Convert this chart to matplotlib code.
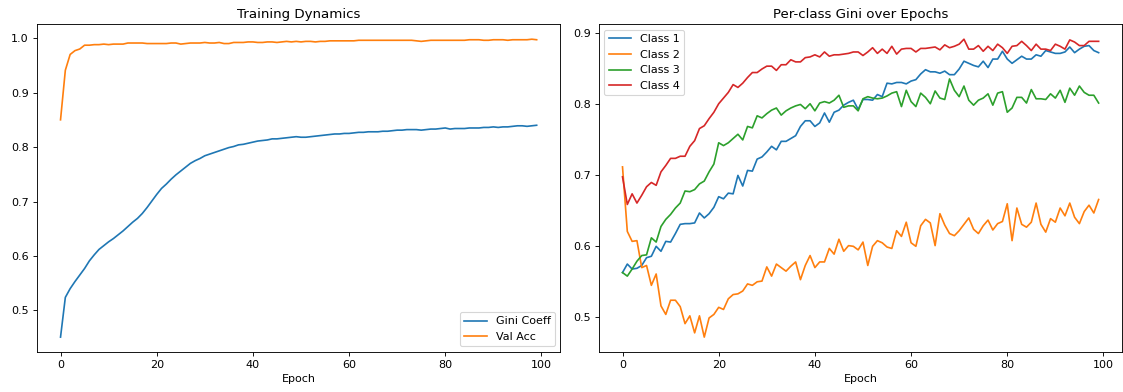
import matplotlib
matplotlib.use("Agg")
import matplotlib.pyplot as plt

# left panel
gini_coeff = [
    0.451, 0.524, 0.540, 0.553, 0.565, 0.577, 0.591, 0.602, 0.612, 0.619,
    0.626, 0.632, 0.639, 0.646, 0.654, 0.662, 0.669, 0.678, 0.689, 0.701,
    0.713, 0.724, 0.732, 0.741, 0.749, 0.756, 0.763, 0.770, 0.775, 0.779,
    0.784, 0.787, 0.790, 0.793, 0.796, 0.799, 0.801, 0.804, 0.805, 0.807,
    0.809, 0.811, 0.812, 0.813, 0.815, 0.815, 0.816, 0.817, 0.818, 0.819,
    0.818, 0.818, 0.819, 0.820, 0.821, 0.822, 0.823, 0.824, 0.824, 0.825,
    0.825, 0.826, 0.827, 0.827, 0.828, 0.828, 0.828, 0.829, 0.829, 0.830,
    0.831, 0.831, 0.832, 0.832, 0.832, 0.831, 0.832, 0.833, 0.833, 0.834,
    0.835, 0.833, 0.834, 0.834, 0.834, 0.835, 0.835, 0.835, 0.836, 0.836,
    0.837, 0.836, 0.837, 0.837, 0.838, 0.839, 0.839, 0.838, 0.839, 0.840,
]
val_acc = [
    0.850, 0.941, 0.970, 0.977, 0.980, 0.987, 0.987, 0.988, 0.988, 0.989,
    0.988, 0.989, 0.989, 0.989, 0.991, 0.991, 0.991, 0.991, 0.990, 0.990,
    0.990, 0.990, 0.990, 0.991, 0.991, 0.989, 0.990, 0.991, 0.991, 0.991,
    0.992, 0.991, 0.991, 0.992, 0.990, 0.990, 0.992, 0.992, 0.992, 0.993,
    0.993, 0.992, 0.992, 0.993, 0.993, 0.992, 0.993, 0.994, 0.993, 0.994,
    0.993, 0.994, 0.994, 0.993, 0.994, 0.994, 0.995, 0.995, 0.995, 0.995,
    0.995, 0.995, 0.996, 0.996, 0.996, 0.996, 0.996, 0.996, 0.996, 0.996,
    0.996, 0.996, 0.996, 0.996, 0.995, 0.994, 0.995, 0.996, 0.996, 0.996,
    0.996, 0.996, 0.996, 0.996, 0.996, 0.997, 0.997, 0.997, 0.996, 0.996,
    0.997, 0.997, 0.997, 0.996, 0.997, 0.997, 0.997, 0.997, 0.998, 0.997,
]

# right panel
class_1 = [
    0.562, 0.574, 0.567, 0.568, 0.572, 0.583, 0.585, 0.599, 0.592, 0.606,
    0.605, 0.617, 0.630, 0.631, 0.631, 0.632, 0.646, 0.639, 0.645, 0.654,
    0.669, 0.666, 0.674, 0.673, 0.699, 0.684, 0.706, 0.705, 0.722, 0.725,
    0.732, 0.740, 0.735, 0.747, 0.747, 0.751, 0.755, 0.768, 0.776, 0.776,
    0.768, 0.773, 0.787, 0.774, 0.788, 0.791, 0.798, 0.802, 0.805, 0.792,
    0.806, 0.806, 0.805, 0.813, 0.810, 0.829, 0.828, 0.830, 0.830, 0.828,
    0.832, 0.834, 0.842, 0.848, 0.845, 0.845, 0.843, 0.846, 0.841, 0.841,
    0.849, 0.860, 0.857, 0.854, 0.852, 0.860, 0.851, 0.863, 0.863, 0.874,
    0.863, 0.857, 0.862, 0.867, 0.863, 0.863, 0.869, 0.867, 0.875, 0.873,
    0.871, 0.871, 0.873, 0.880, 0.872, 0.877, 0.881, 0.882, 0.875, 0.872,
]
class_2 = [
    0.711, 0.620, 0.606, 0.607, 0.569, 0.572, 0.544, 0.560, 0.515, 0.503,
    0.523, 0.523, 0.514, 0.490, 0.501, 0.477, 0.501, 0.471, 0.498, 0.503,
    0.513, 0.510, 0.525, 0.531, 0.532, 0.536, 0.546, 0.544, 0.549, 0.550,
    0.570, 0.557, 0.574, 0.569, 0.564, 0.571, 0.577, 0.552, 0.572, 0.586,
    0.569, 0.577, 0.577, 0.596, 0.588, 0.609, 0.592, 0.600, 0.599, 0.594,
    0.605, 0.572, 0.599, 0.607, 0.604, 0.598, 0.596, 0.621, 0.613, 0.633,
    0.604, 0.599, 0.628, 0.637, 0.632, 0.600, 0.645, 0.629, 0.617, 0.614,
    0.621, 0.630, 0.639, 0.623, 0.617, 0.628, 0.636, 0.622, 0.631, 0.634,
    0.659, 0.607, 0.653, 0.630, 0.626, 0.633, 0.660, 0.630, 0.619, 0.638,
    0.633, 0.653, 0.642, 0.660, 0.640, 0.631, 0.648, 0.657, 0.646, 0.665,
]
class_3 = [
    0.562, 0.557, 0.567, 0.578, 0.586, 0.587, 0.611, 0.605, 0.627, 0.637,
    0.644, 0.653, 0.660, 0.677, 0.676, 0.679, 0.687, 0.691, 0.704, 0.715,
    0.745, 0.741, 0.745, 0.751, 0.757, 0.749, 0.768, 0.766, 0.783, 0.780,
    0.786, 0.791, 0.794, 0.784, 0.790, 0.794, 0.797, 0.799, 0.793, 0.800,
    0.790, 0.801, 0.803, 0.801, 0.805, 0.812, 0.795, 0.797, 0.797, 0.790,
    0.807, 0.810, 0.808, 0.807, 0.808, 0.811, 0.815, 0.817, 0.796, 0.819,
    0.803, 0.796, 0.815, 0.809, 0.800, 0.818, 0.808, 0.806, 0.835, 0.819,
    0.810, 0.825, 0.805, 0.798, 0.805, 0.808, 0.814, 0.798, 0.815, 0.817,
    0.788, 0.794, 0.809, 0.809, 0.801, 0.820, 0.807, 0.807, 0.806, 0.814,
    0.808, 0.819, 0.802, 0.822, 0.812, 0.825, 0.816, 0.812, 0.812, 0.801,
]
class_4 = [
    0.697, 0.658, 0.673, 0.660, 0.671, 0.683, 0.689, 0.685, 0.704, 0.713,
    0.723, 0.723, 0.726, 0.726, 0.740, 0.748, 0.765, 0.769, 0.779, 0.788,
    0.800, 0.808, 0.816, 0.827, 0.823, 0.829, 0.837, 0.844, 0.844, 0.849,
    0.853, 0.853, 0.847, 0.855, 0.855, 0.862, 0.859, 0.859, 0.865, 0.866,
    0.869, 0.866, 0.873, 0.867, 0.869, 0.869, 0.870, 0.871, 0.873, 0.873,
    0.868, 0.873, 0.879, 0.871, 0.877, 0.871, 0.881, 0.870, 0.877, 0.878,
    0.878, 0.873, 0.878, 0.878, 0.879, 0.880, 0.876, 0.883, 0.879, 0.881,
    0.884, 0.891, 0.877, 0.877, 0.882, 0.874, 0.881, 0.875, 0.884, 0.879,
    0.871, 0.881, 0.882, 0.888, 0.882, 0.875, 0.884, 0.877, 0.877, 0.875,
    0.884, 0.881, 0.877, 0.890, 0.887, 0.882, 0.882, 0.888, 0.888, 0.888,
]
class_names = ['Class 1', 'Class 2', 'Class 3', 'Class 4']
epochs = list(range(len(gini_coeff)))

fig, (ax1, ax2) = plt.subplots(1, 2, figsize=(14.0375, 4.9), dpi=80)
fig.subplots_adjust(left=0.0327, right=0.9995, bottom=0.102, top=0.938, wspace=0.073)

ax1.plot(epochs, gini_coeff, label='Gini Coeff')
ax1.plot(epochs, val_acc, label='Val Acc')
ax1.set_title('Training Dynamics', fontsize=12)
ax1.set_xlabel('Epoch', fontsize=10)
ax1.legend(loc='lower right', fontsize=10)

for vals, name in zip([class_1, class_2, class_3, class_4], class_names):
    ax2.plot(epochs, vals, label=name)
ax2.set_title('Per-class Gini over Epochs', fontsize=12)
ax2.set_xlabel('Epoch', fontsize=10)
ax2.legend(loc='upper left', fontsize=10)

for ax in (ax1, ax2):
    ax.tick_params(labelsize=10)

fig.savefig('out.png')
